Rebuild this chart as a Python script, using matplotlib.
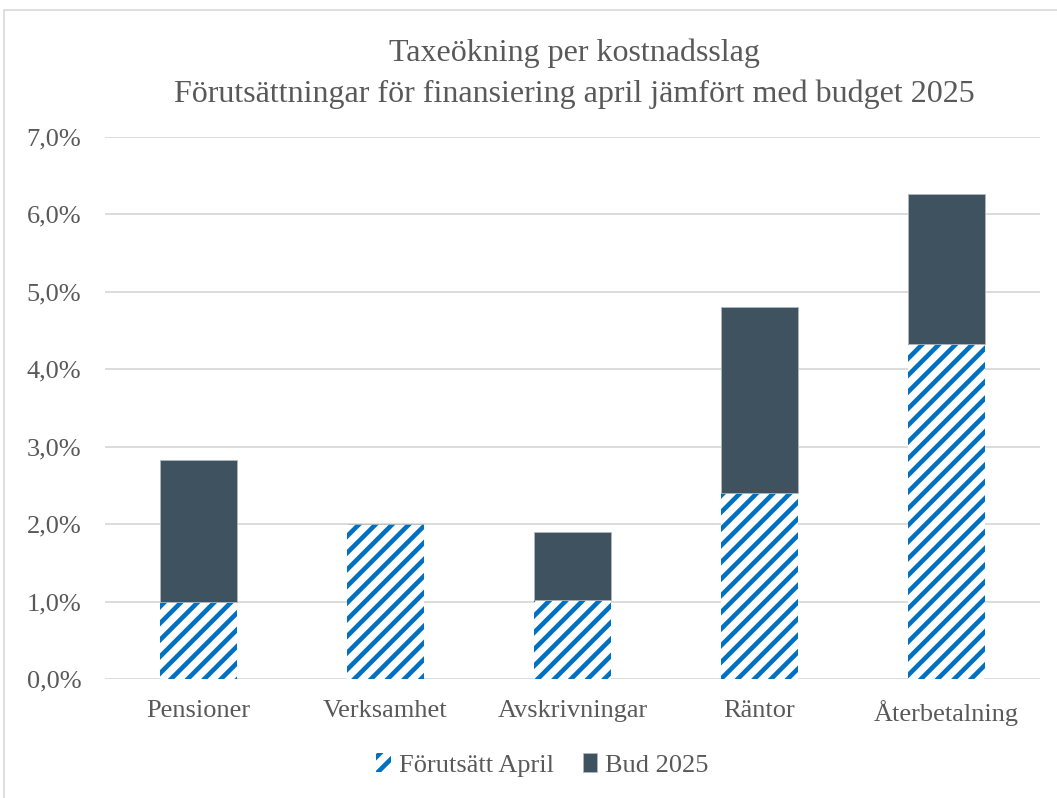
import matplotlib
matplotlib.use("Agg")
import matplotlib.pyplot as plt
from matplotlib.patches import Rectangle
from matplotlib.ticker import FuncFormatter
import numpy as np

categories = ["Pensioner", "Verksamhet", "Avskrivningar", "Räntor", "Återbetalning"]
forutsatt_april = [1.00, 2.00, 1.02, 2.40, 4.33]
bud_2025 = [1.83, 0.00, 0.88, 2.41, 1.94]
yticks = [0, 1, 2, 3, 4, 5, 6, 7]

plt.rcParams['font.family'] = ['Liberation Serif', 'DejaVu Serif']
plt.rcParams['hatch.linewidth'] = 3.3

fig = plt.figure(figsize=(10.57, 7.98), dpi=100)
ax = fig.add_axes([105/1057, 1-679/798, 935/1057, (679-137)/798])

x = np.arange(len(categories))
w = 0.41
blue = '#0070C0'
dark = '#3E5260'
ax.bar(x, forutsatt_april, w, color='white', edgecolor=blue, hatch='//', linewidth=0, zorder=3,
       label='Förutsätt April')
ax.bar(x, bud_2025, w, bottom=forutsatt_april, color=dark, edgecolor='#B0B8BE', linewidth=0.6,
       zorder=3, label='Bud 2025')

ax.set_xlim(-0.5, len(categories)-0.5)
ax.set_ylim(0, 7)
ax.set_yticks(yticks)
ax.yaxis.set_major_formatter(FuncFormatter(lambda v, p: f"{v:.1f}%".replace('.', ',')))
ax.set_xticks(x)
ax.set_xticklabels(categories)
ax.tick_params(axis='both', length=0, labelsize=19, labelcolor='#595959')
ax.tick_params(axis='x', pad=15)
ax.tick_params(axis='y', pad=17)
ax.grid(axis='y', color='#D9D9D9', linewidth=1.3, zorder=0)
for s in ax.spines.values():
    s.set_visible(False)

fig.text(0.543, 1-53/798, "Taxeökning per kostnadsslag", ha='center', va='center', fontsize=23, color='#595959')
fig.text(0.543, 1-94/798, "Förutsättningar för finansiering april jämfört med budget 2025", ha='center',
         va='center', fontsize=23, color='#595959')

leg = fig.legend(loc='center', bbox_to_anchor=(0.513, 1-765/798), ncol=2, frameon=False, fontsize=19,
                 handlelength=0.55, handleheight=0.7, handletextpad=0.3, columnspacing=1.1)
for t in leg.get_texts():
    t.set_color('#595959')

fig.patches.append(Rectangle((4/1057, -0.1), 1.2, 1-10/798+0.1, transform=fig.transFigure,
                             fill=False, edgecolor='#D9D9D9', linewidth=1.2))

fig.savefig('out.png', dpi=100)
